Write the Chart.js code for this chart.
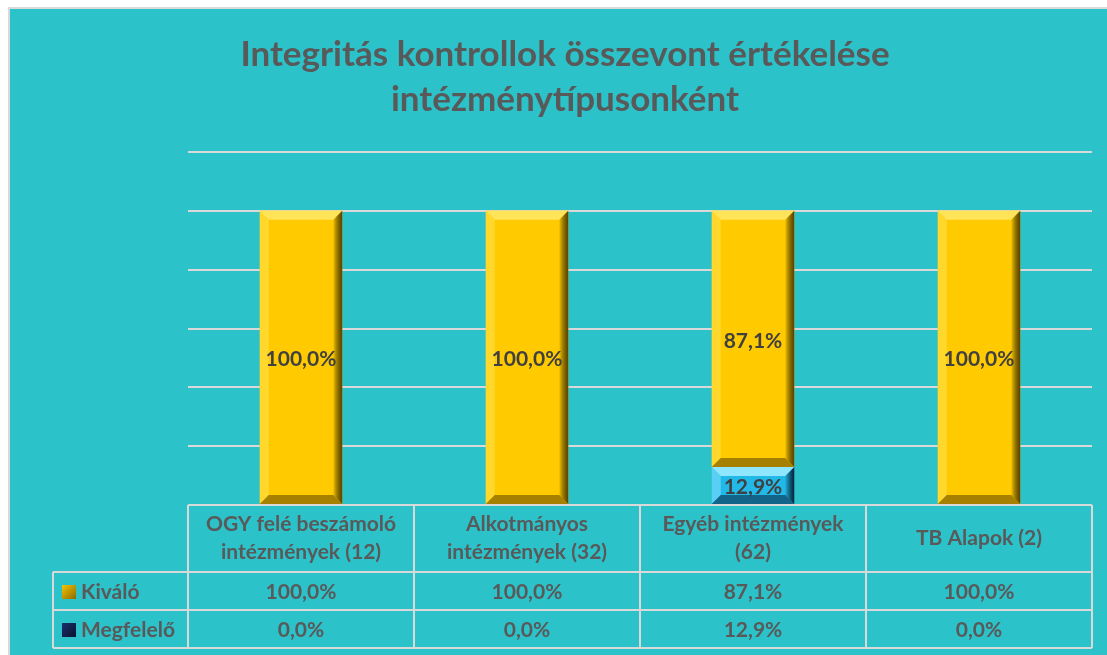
<!DOCTYPE html>
<html>
<head>
<meta charset="utf-8">
<script src="https://cdn.jsdelivr.net/npm/chart.js@4.4.1/dist/chart.umd.min.js"></script>
<style>
  html, body { margin: 0; padding: 0; background: #fff; }
  #wrap { position: relative; width: 1107px; height: 655px; }
</style>
</head>
<body>
<div id="wrap"><canvas id="chart" width="1107" height="655"></canvas></div>
<script>
  // --- data ---
  const titleLines = ["Integritás kontrollok összevont értékelése", "intézménytípusonként"];
  const categories = [
    ["OGY felé beszámoló", "intézmények (12)"],
    ["Alkotmányos", "intézmények (32)"],
    ["Egyéb intézmények", "(62)"],
    ["TB Alapok (2)"]
  ];
  const kivaloValues = [100.0, 100.0, 87.1, 100.0];
  const megfeleloValues = [0.0, 0.0, 12.9, 0.0];
  const seriesNames = ["Kiváló", "Megfelelő"];

  const BG = "#2cc2c9";
  const LINE = "#d9d9d9";
  const TEXT = "#595959";
  const FONT = "bold 21px Lato";

  const fmt = v => v.toFixed(1).replace(".", ",") + "%";

  // background + frame
  const bgPlugin = {
    id: "bg",
    beforeDraw(chart) {
      const c = chart.ctx;
      c.save();
      c.fillStyle = "#fff";
      c.fillRect(0, 0, chart.width, chart.height);
      c.fillStyle = BG;
      c.fillRect(8, 7, chart.width - 8, chart.height - 7);
      c.strokeStyle = LINE;
      c.lineWidth = 2;
      c.beginPath();
      c.moveTo(9, chart.height);
      c.lineTo(9, 8);
      c.lineTo(chart.width, 8);
      c.stroke();
      c.restore();
    }
  };

  // title
  const titlePlugin = {
    id: "ttl",
    afterDraw(chart) {
      const c = chart.ctx;
      c.save();
      c.fillStyle = TEXT;
      c.font = "bold 35px Lato";
      c.textAlign = "center";
      c.textBaseline = "middle";
      c.fillText(titleLines[0], 565, 55);
      c.fillText(titleLines[1], 565, 100);
      c.restore();
    }
  };

  // bevel look on bars
  function bevel(c, x0, y0, x1, y1, light, dark, d) {
    const w = x1 - x0, h = y1 - y0;
    d = Math.min(d, w / 2, h / 2);
    // top
    c.fillStyle = light;
    c.beginPath();
    c.moveTo(x0, y0); c.lineTo(x1, y0); c.lineTo(x1 - d, y0 + d); c.lineTo(x0 + d, y0 + d);
    c.fill();
    // left
    c.globalAlpha = 0.5;
    c.beginPath();
    c.moveTo(x0, y0); c.lineTo(x0 + d, y0 + d); c.lineTo(x0 + d, y1 - d); c.lineTo(x0, y1);
    c.fill();
    c.globalAlpha = 1;
    // right
    const gr = c.createLinearGradient(x1 - d, 0, x1, 0);
    gr.addColorStop(0, "rgba(0,0,0,0.05)");
    gr.addColorStop(1, dark);
    c.fillStyle = gr;
    c.beginPath();
    c.moveTo(x1, y0); c.lineTo(x1, y1); c.lineTo(x1 - d, y1 - d); c.lineTo(x1 - d, y0 + d);
    c.fill();
    // bottom
    c.globalAlpha = 0.55;
    c.fillStyle = dark;
    c.beginPath();
    c.moveTo(x0, y1); c.lineTo(x1, y1); c.lineTo(x1 - d, y1 - d); c.lineTo(x0 + d, y1 - d);
    c.fill();
    c.globalAlpha = 1;
  }

  const bevelPlugin = {
    id: "bevel",
    afterDatasetsDraw(chart) {
      const c = chart.ctx;
      c.save();
      chart.data.datasets.forEach((ds, di) => {
        const meta = chart.getDatasetMeta(di);
        meta.data.forEach((bar, i) => {
          if (!ds.data[i]) return;
          const p = bar.getProps(["x", "y", "base", "width"], true);
          const x0 = p.x - p.width / 2, x1 = p.x + p.width / 2;
          const y0 = Math.min(p.y, p.base), y1 = Math.max(p.y, p.base);
          bevel(c, x0, y0, x1, y1, ds.bevelLight, ds.bevelDark, 9);
          // label
          c.fillStyle = "#404040";
          c.font = FONT;
          c.textAlign = "center";
          c.textBaseline = "middle";
          c.fillText(fmt(ds.data[i]), p.x, (y0 + y1) / 2 + 2);
        });
      });
      c.restore();
    }
  };

  // data table under the plot
  const tablePlugin = {
    id: "table",
    afterDraw(chart) {
      const c = chart.ctx;
      const xs = chart.scales.x;
      const area = chart.chartArea;
      const left = area.left, right = area.right;
      const colW = (right - left) / categories.length;
      const hdrTop = area.bottom, hdrBot = hdrTop + 67;
      const rowH = 38;
      const tblLeft = 53;
      const rows = [
        { name: seriesNames[0], values: kivaloValues, sw: ["#f5c400", "#8a6a00"] },
        { name: seriesNames[1], values: megfeleloValues, sw: ["#1a2f6b", "#0a1430"] }
      ];
      c.save();
      c.strokeStyle = LINE;
      c.lineWidth = 2;
      c.beginPath();
      // vertical lines
      for (let k = 0; k <= categories.length; k++) {
        const x = left + k * colW;
        c.moveTo(x, hdrTop); c.lineTo(x, hdrBot + rowH * rows.length);
      }
      c.moveTo(tblLeft, hdrBot); c.lineTo(tblLeft, hdrBot + rowH * rows.length);
      for (let r = 0; r <= rows.length; r++) {
        const y = hdrBot + r * rowH;
        c.moveTo(tblLeft, y); c.lineTo(right, y);
      }
      c.stroke();

      c.fillStyle = TEXT;
      c.font = FONT;
      c.textAlign = "center";
      c.textBaseline = "middle";
      categories.forEach((lines, i) => {
        const cx = xs.getPixelForValue(i);
        const mid = (hdrTop + hdrBot) / 2;
        lines.forEach((t, j) => {
          c.fillText(t, cx, mid + (j - (lines.length - 1) / 2) * 28);
        });
      });
      rows.forEach((row, r) => {
        const cy = hdrBot + r * rowH + rowH / 2 + 1;
        row.values.forEach((v, i) => {
          c.fillStyle = TEXT;
          c.fillText(fmt(v), xs.getPixelForValue(i), cy);
        });
        // swatch
        const g = c.createLinearGradient(62, cy - 7, 76, cy + 7);
        g.addColorStop(0, row.sw[0]);
        g.addColorStop(1, row.sw[1]);
        c.fillStyle = g;
        c.fillRect(62, cy - 7, 14, 14);
        c.fillStyle = TEXT;
        c.textAlign = "left";
        c.fillText(row.name, 81, cy);
        c.textAlign = "center";
      });
      c.restore();
    }
  };

  new Chart(document.getElementById("chart"), {
    type: "bar",
    data: {
      labels: categories.map(l => l.join(" ")),
      datasets: [
        {
          label: seriesNames[1],
          data: megfeleloValues,
          backgroundColor: "#22b8e8",
          bevelLight: "#8fe6ff",
          bevelDark: "#06203a",
          borderWidth: 0
        },
        {
          label: seriesNames[0],
          data: kivaloValues,
          backgroundColor: "#ffcb00",
          bevelLight: "#ffe45a",
          bevelDark: "#5c4300",
          borderWidth: 0
        }
      ]
    },
    options: {
      responsive: false,
      animation: false,
      events: [],
      layout: { padding: { left: 188, right: 15, top: 152, bottom: 150 } },
      datasets: { bar: { categoryPercentage: 0.365, barPercentage: 1 } },
      scales: {
        x: {
          stacked: true,
          grid: { display: false, drawTicks: false },
          border: { display: false },
          ticks: { display: false }
        },
        y: {
          stacked: true,
          min: 0,
          max: 120,
          ticks: { display: false, stepSize: 20 },
          grid: { color: LINE, lineWidth: 2, drawTicks: false },
          border: { display: false }
        }
      },
      plugins: {
        legend: { display: false },
        title: { display: false },
        tooltip: { enabled: false }
      }
    },
    plugins: [bgPlugin, bevelPlugin, tablePlugin, titlePlugin]
  });
</script>
</body>
</html>
